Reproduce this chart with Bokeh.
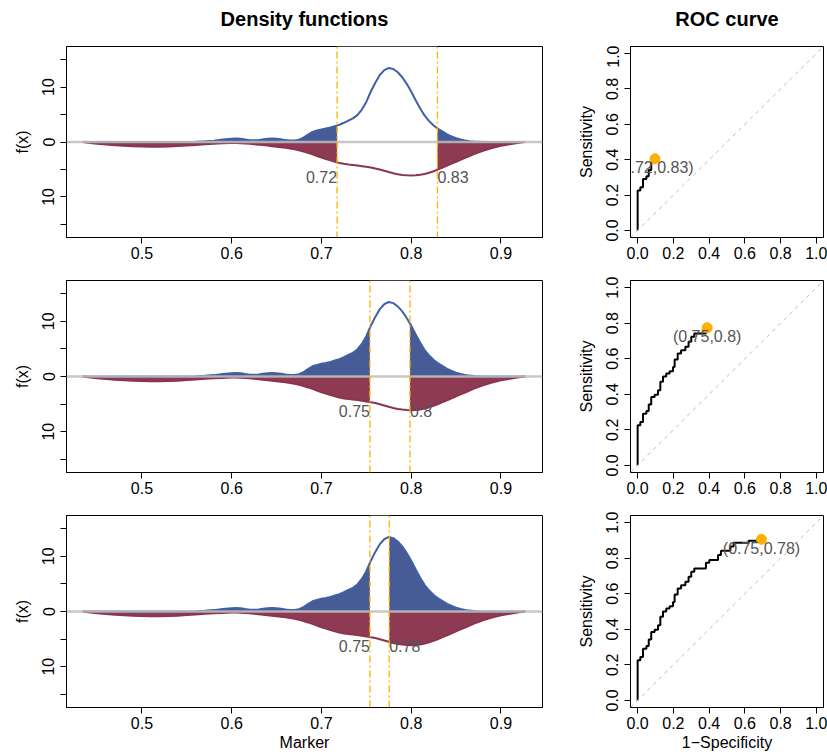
import numpy as np
from bokeh.plotting import figure
from bokeh.models import Range1d, FixedTicker, Span, Slope
from bokeh.layouts import column, row
from bokeh.embed import file_html
from bokeh.resources import INLINE
from bokeh.core.properties import value

# ---------------- data ----------------
marker_x = [0.434, 0.44, 0.45, 0.46, 0.47, 0.48, 0.49, 0.50, 0.51, 0.52, 0.53, 0.54, 0.55, 0.56, 0.57, 0.58, 0.59,
            0.600, 0.605, 0.610, 0.615, 0.620, 0.625, 0.630, 0.635, 0.640, 0.645,
            0.650, 0.655, 0.660, 0.665, 0.670, 0.675, 0.680, 0.685, 0.690, 0.695,
            0.700, 0.705, 0.710, 0.715, 0.720, 0.725, 0.730, 0.735, 0.740, 0.745,
            0.750, 0.755, 0.760, 0.765, 0.770, 0.775, 0.780, 0.785, 0.790, 0.795,
            0.800, 0.805, 0.810, 0.815, 0.820, 0.825, 0.830, 0.835, 0.840, 0.845,
            0.850, 0.855, 0.860, 0.865, 0.870,
            0.88, 0.89, 0.90, 0.91, 0.92, 0.927]

dens_pos = [0, 0, 0, 0, 0, 0, 0, 0, 0, 0, 0.01, 0.01, 0.02, 0.05, 0.12, 0.25, 0.45,
            0.60, 0.64, 0.58, 0.45, 0.33, 0.30, 0.36, 0.48, 0.58, 0.62,
            0.58, 0.48, 0.36, 0.27, 0.26, 0.42, 0.80, 1.35, 1.85, 2.10,
            2.30, 2.45, 2.65, 2.90, 3.15, 3.50, 3.90, 4.30, 4.90, 5.90,
            7.30, 9.20, 10.8, 12.2, 13.1, 13.5, 13.3, 12.7, 11.8, 10.6,
            9.20, 7.60, 6.10, 4.80, 3.80, 3.00, 2.40, 1.90, 1.40, 1.00,
            0.70, 0.45, 0.28, 0.16, 0.08,
            0.02, 0, 0, 0, 0, 0]

dens_neg = [0, 0.12, 0.30, 0.45, 0.58, 0.70, 0.78, 0.83, 0.85, 0.85, 0.82, 0.75, 0.65, 0.53, 0.42, 0.32, 0.25,
            0.20, 0.19, 0.21, 0.26, 0.33, 0.40, 0.48, 0.57, 0.66, 0.76,
            0.86, 0.96, 1.06, 1.18, 1.32, 1.50, 1.72, 1.98, 2.25, 2.55,
            2.85, 3.10, 3.35, 3.60, 3.82, 3.97, 4.08, 4.18, 4.28, 4.40,
            4.52, 4.65, 4.82, 5.02, 5.25, 5.48, 5.70, 5.88, 6.00, 6.07,
            6.10, 6.07, 5.98, 5.82, 5.60, 5.32, 5.00, 4.65, 4.30, 3.95,
            3.60, 3.25, 2.90, 2.55, 2.20,
            1.60, 1.10, 0.70, 0.40, 0.15, 0]

cut_low = [0.7174, 0.754, 0.754]
cut_high = [0.8292, 0.7986, 0.7755]
cut_low_labels = ["0.72", "0.75", "0.75"]
cut_high_labels = ["0.83", "0.8", "0.78"]

roc_fpr = [0, 0, 0.015, 0.030, 0.049, 0.062, 0.076, 0.095, 0.114, 0.127, 0.142, 0.160, 0.179, 0.198,
           0.207, 0.224, 0.243, 0.267, 0.285, 0.300, 0.317, 0.382, 0.401, 0.450, 0.466, 0.519, 0.537, 0.621]
roc_tpr = [0, 0.226, 0.244, 0.291, 0.306, 0.342, 0.385, 0.398, 0.423, 0.470, 0.500, 0.517, 0.530, 0.554,
           0.596, 0.630, 0.648, 0.667, 0.695, 0.724, 0.742, 0.774, 0.789, 0.818, 0.842, 0.865, 0.887, 0.898]
opt_fpr = [0.097, 0.389, 0.693]
opt_tpr = [0.405, 0.774, 0.906]
opt_labels = ["(0.72,0.83)", "(0.75,0.8)", "(0.75,0.78)"]

density_xticks = [0.5, 0.6, 0.7, 0.8, 0.9]
density_yticks = [-15, -10, -5, 0, 5, 10, 15]
density_ytick_labels = ["", "10", "", "0", "", "10", ""]
roc_ticks = [0.0, 0.2, 0.4, 0.6, 0.8, 1.0]
roc_tick_labels = ["0.0", "0.2", "0.4", "0.6", "0.8", "1.0"]
panel_titles = ["Density functions", "ROC curve"]

# ---------------- style ----------------
FONT = "Liberation Sans"
FS = "16px"
BLUE_FILL = "#475B97"
RED_FILL = "#8E3A52"
BLUE_LINE = "#4060A6"
RED_LINE = "#8C3352"
ORANGE = "#FFB000"
GRAY_TXT = "#555555"
X_LIM = (0.4159, 0.9463)
Y_LIM = 17.4
ROC_LIM = (-0.04, 1.04)

TITLE_H = 45
row_heights = [222, 235, 254]
row_top = [1, 13, 13]
row_bottom = [30, 30, 49]
DENS_W, DENS_L, DENS_R = 570, 66, 28
ROC_W, ROC_L, ROC_R = 257, 60, 4


def style_axes(p):
    p.grid.visible = False
    p.outline_line_color = "black"
    p.outline_line_width = 1
    p.outline_line_alpha = 1
    for ax in p.axis:
        ax.axis_line_color = "black"
        ax.major_tick_out = 6
        ax.major_tick_in = 0
        ax.minor_tick_out = 0
        ax.minor_tick_in = 0
        ax.major_tick_line_color = "black"
        ax.major_label_text_font = FONT
        ax.major_label_text_font_size = FS
        ax.major_label_text_color = "black"
        ax.axis_label_text_font = FONT
        ax.axis_label_text_font_size = FS
        ax.axis_label_text_font_style = "normal"
        ax.axis_label_text_color = "black"
        ax.major_label_standoff = 3
    p.xaxis.axis_label_standoff = 2
    p.yaxis.major_label_orientation = "vertical"
    p.yaxis.major_label_standoff = 6
    p.yaxis.axis_label_standoff = 9


def title_fig(text, width, left, right):
    p = figure(width=width, height=TITLE_H, output_backend="svg", toolbar_location=None,
               x_axis_location=None, y_axis_location=None,
               min_border_left=left, min_border_right=right, min_border_top=0, min_border_bottom=0,
               title=text)
    p.grid.visible = False
    p.outline_line_color = None
    p.title.align = "center"
    p.title.vertical_align = "bottom"
    p.title.text_font = FONT
    p.title.text_font_size = "20px"
    p.title.text_font_style = "bold"
    p.title.text_color = "black"
    p.title.standoff = 10
    return p


def density_fig(i):
    p = figure(width=DENS_W, height=row_heights[i], output_backend="svg", toolbar_location=None,
               x_range=Range1d(*X_LIM), y_range=Range1d(-Y_LIM, Y_LIM),
               min_border_left=DENS_L, min_border_right=DENS_R,
               min_border_top=row_top[i], min_border_bottom=row_bottom[i])
    x = np.array(marker_x)
    pos = np.array(dens_pos)
    neg = -np.array(dens_neg)
    p.varea(x=x, y1=0, y2=pos, fill_color=BLUE_FILL)
    p.varea(x=x, y1=neg, y2=0, fill_color=RED_FILL)
    p.quad(left=cut_low[i], right=cut_high[i], bottom=-Y_LIM, top=Y_LIM,
           fill_color="white", line_color=None)
    p.line(x, pos, line_color=BLUE_LINE, line_width=2)
    p.line(x, neg, line_color=RED_LINE, line_width=2)
    p.add_layout(Span(location=0, dimension="width", line_color="#BEBEBE", line_width=2.5, line_alpha=0.85))
    for c in (cut_low[i], cut_high[i]):
        p.add_layout(Span(location=c, dimension="height", line_color=ORANGE, line_width=1.3,
                          line_dash="2 3 7 3"))
    p.text(x=[cut_low[i]], y=[-6.3], text=[cut_low_labels[i]], text_align="right",
           text_baseline="middle", text_font=value(FONT), text_font_size=FS, text_color=GRAY_TXT)
    p.text(x=[cut_high[i]], y=[-6.3], text=[cut_high_labels[i]], text_align="left",
           text_baseline="middle", text_font=value(FONT), text_font_size=FS, text_color=GRAY_TXT)
    p.xaxis.ticker = FixedTicker(ticks=density_xticks)
    p.yaxis.ticker = FixedTicker(ticks=density_yticks)
    p.yaxis.major_label_overrides = {t: l for t, l in zip(density_yticks, density_ytick_labels)}
    p.yaxis.axis_label = "f(x)"
    if i == 2:
        p.xaxis.axis_label = "Marker"
    style_axes(p)
    return p


def roc_fig(i):
    p = figure(width=ROC_W, height=row_heights[i], output_backend="svg", toolbar_location=None,
               x_range=Range1d(*ROC_LIM), y_range=Range1d(*ROC_LIM),
               min_border_left=ROC_L, min_border_right=ROC_R,
               min_border_top=row_top[i], min_border_bottom=row_bottom[i])
    p.add_layout(Slope(gradient=1, y_intercept=0, line_color="#BEBEBE", line_width=1, line_dash="4 4"))
    fx = [f for f in roc_fpr if f < opt_fpr[i]]
    fy = roc_tpr[:len(fx)]
    p.step(x=fx + [opt_fpr[i]], y=fy + [opt_tpr[i]], mode="after", line_color="black", line_width=2)
    p.scatter(x=[opt_fpr[i]], y=[opt_tpr[i]], size=10, fill_color=ORANGE, line_color=ORANGE)
    p.text(x=[opt_fpr[i]], y=[opt_tpr[i]], text=[opt_labels[i]], text_align="center",
           text_baseline="middle", y_offset=9, text_font=value(FONT), text_font_size=FS,
           text_color=GRAY_TXT)
    p.xaxis.ticker = FixedTicker(ticks=roc_ticks)
    p.yaxis.ticker = FixedTicker(ticks=roc_ticks)
    p.xaxis.major_label_overrides = {t: l for t, l in zip(roc_ticks, roc_tick_labels)}
    p.yaxis.major_label_overrides = {t: l for t, l in zip(roc_ticks, roc_tick_labels)}
    p.yaxis.axis_label = "Sensitivity"
    if i == 2:
        p.xaxis.axis_label = "1\u2212Specificity"
    style_axes(p)
    return p


titles = row(title_fig(panel_titles[0], DENS_W, DENS_L, DENS_R),
             title_fig(panel_titles[1], ROC_W, ROC_L, ROC_R))
layout = column(titles, *[row(density_fig(i), roc_fig(i)) for i in range(3)])

open("out.html", "w").write(file_html(layout, INLINE))
